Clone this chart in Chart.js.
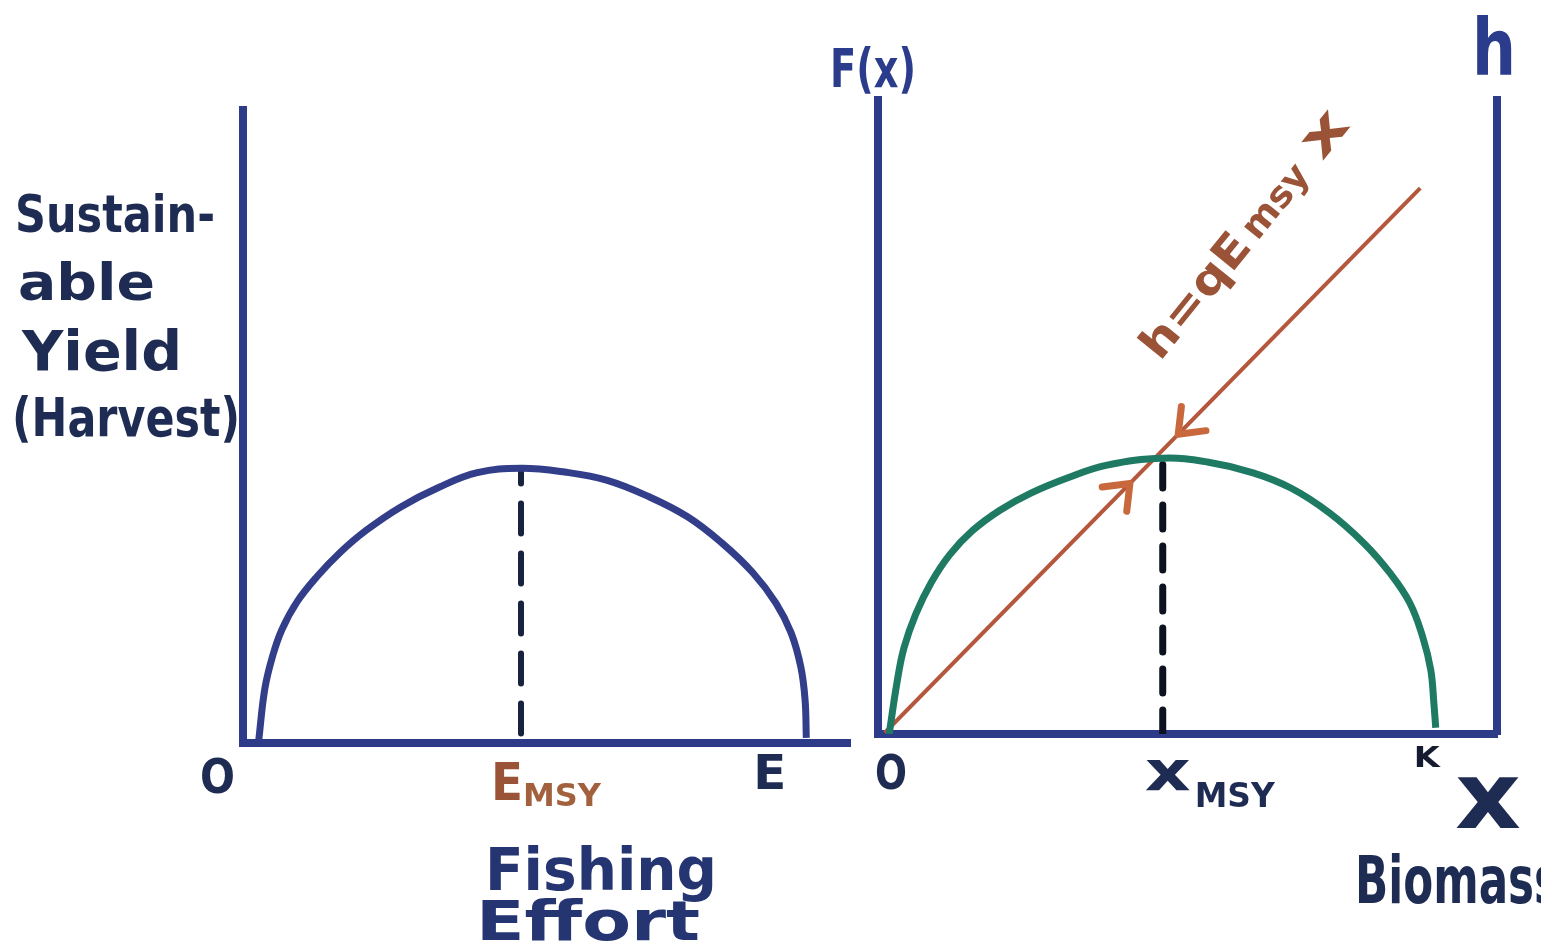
<!DOCTYPE html>
<html lang="en">
<head>
<meta charset="UTF-8">
<title>Sustainable Yield and Biomass</title>
<script src="https://cdn.jsdelivr.net/npm/chart.js"></script>
<style>
  body { margin: 0; background: #fff; width: 1541px; height: 948px; overflow: hidden; position: relative; }
  #yieldChart { position: absolute; left: 0; top: 0; }
  #biomassChart { position: absolute; left: 815px; top: 0; }
</style>
</head>
<body>
<canvas id="yieldChart" width="870" height="948"></canvas>
<canvas id="biomassChart" width="726" height="948"></canvas>
<script>
// Left panel: sustainable yield against fishing effort (axes run 0..100)
const effort = [2.6, 3.6, 4.9, 6.4, 8.9, 12.2, 16.0, 20.3, 26.0, 32.3, 38.6, 45.8, 53.0, 60.0, 66.9, 73.3, 78.9, 84.0, 87.8, 90.3, 91.9, 92.6, 92.8];
const sustainableYield = [0.5, 8.6, 13.8, 17.9, 22.3, 26.3, 30.1, 33.6, 37.3, 40.4, 42.7, 43.4, 42.8, 41.5, 38.9, 35.7, 31.6, 26.9, 22.1, 17.4, 12.0, 6.8, 0.8];
const effortMsy = 45.8;
const effortMax = 92.8;

// Right panel: growth F(x) against biomass x, with the harvest line h = qEmsy x
const biomass = [1.8, 3.1, 4.2, 6.1, 8.6, 11.6, 15.3, 19.7, 24.7, 30.9, 37.0, 46.0, 53.2, 60.6, 66.7, 72.9, 78.5, 82.7, 85.9, 88.0, 89.3, 89.8, 90.1];
const growth = [0, 8.3, 13.6, 18.9, 23.9, 28.3, 32.1, 35.3, 38.0, 40.5, 42.4, 43.5, 42.9, 41.2, 38.8, 34.9, 30.1, 25.4, 20.7, 15.3, 10.1, 4.9, 1.0];
const biomassMsy = 46.0;
const carryingCapacity = 90.1;
const harvestX = [1.1, 87.6];
const harvestH = [0.2, 86.1];
const arrowAt = [40.7, 48.5];   // x of each arrowhead on the harvest line
const arrowDir = [1, -1];       // 1 = pointing up the line, -1 = pointing down

const axisColor = '#2e3b88';
const inkNavy = '#1e2b52';
const inkBlue = '#2b3c8c';
const inkBrown = '#9a5336';

function fitText(ctx, str, x, y, size, width, color, angle) {
  ctx.save();
  ctx.font = 'bold ' + size + 'px "DejaVu Sans"';
  ctx.fillStyle = color;
  ctx.textBaseline = 'alphabetic';
  ctx.translate(x, y);
  if (angle) ctx.rotate(angle);
  const w = ctx.measureText(str).width;
  ctx.scale(width / w, 1);
  ctx.fillText(str, 0, 0);
  ctx.restore();
}

function plainScale() {
  return {
    type: 'linear', min: 0, max: 100,
    ticks: { display: false },
    grid: { display: false, drawTicks: false },
    border: { color: axisColor, width: 8 }
  };
}

const baseOptions = (padding) => ({
  responsive: false,
  animation: false,
  events: [],
  layout: { padding: padding },
  plugins: { legend: { display: false }, tooltip: { enabled: false } }
});

// labels for the effort panel
const yieldLabels = {
  id: 'yieldLabels',
  afterDraw(chart) {
    const ctx = chart.ctx;
    const x = chart.scales.x;
    fitText(ctx, 'Sustain-', 15, 232, 52, 200, inkNavy);
    fitText(ctx, 'able', 18, 300, 52, 137, inkNavy);
    fitText(ctx, 'Yield', 22, 370, 56, 160, inkNavy);
    fitText(ctx, '(Harvest)', 12, 436, 54, 228, inkNavy);

    fitText(ctx, 'O', x.getPixelForValue(0) - 43, 793, 48, 35, inkNavy);
    const em = x.getPixelForValue(effortMsy);
    fitText(ctx, 'E', em - 30, 800, 52, 32, inkBrown);
    fitText(ctx, 'MSY', em + 2, 806, 32, 78, '#a3603c');
    fitText(ctx, 'E', x.getPixelForValue(effortMax) - 53, 789, 48, 33, inkNavy);

    fitText(ctx, 'Fishing', 485, 890, 58, 232, '#253572');
    fitText(ctx, 'Effort', 476, 940, 56, 224, '#253572');
  }
};

// labels and arrowheads for the biomass panel
const biomassLabels = {
  id: 'biomassLabels',
  afterDraw(chart) {
    const ctx = chart.ctx;
    const x = chart.scales.x, y = chart.scales.y;
    const off = 815;

    fitText(ctx, 'F(x)', 830 - off, 87, 54, 86, inkBlue);
    fitText(ctx, 'h', 1472 - off, 75, 78, 44, inkBlue);

    fitText(ctx, 'O', x.getPixelForValue(0) - 3, 789, 48, 32, inkNavy);
    const xm = x.getPixelForValue(biomassMsy);
    fitText(ctx, 'x', xm - 18, 790, 56, 46, inkNavy);
    fitText(ctx, 'MSY', xm + 32, 807, 34, 80, inkNavy);
    fitText(ctx, 'K', x.getPixelForValue(carryingCapacity) - 22, 767, 28, 26, '#161c30');
    fitText(ctx, 'x', 1455 - off, 828, 92, 66, inkNavy);
    fitText(ctx, 'Biomass', 1355 - off, 903, 66, 205, inkNavy);

    // rotated label along the harvest line
    const ang = -51 * Math.PI / 180;
    const ox = 1160 - off, oy = 362;
    const along = (d) => [ox + d * Math.cos(ang), oy + d * Math.sin(ang)];
    let p = along(0);
    fitText(ctx, 'h=qE', p[0], p[1], 44, 148, inkBrown, ang);
    p = along(155);
    fitText(ctx, 'msy', p[0], p[1], 36, 85, inkBrown, ang);
    p = along(258);
    fitText(ctx, 'x', p[0], p[1], 52, 46, inkBrown, ang);

    // arrowheads on the harvest line
    const x0 = x.getPixelForValue(harvestX[0]), y0 = y.getPixelForValue(harvestH[0]);
    const x1 = x.getPixelForValue(harvestX[1]), y1 = y.getPixelForValue(harvestH[1]);
    const len = Math.hypot(x1 - x0, y1 - y0);
    const ux = (x1 - x0) / len, uy = (y1 - y0) / len;
    const slope = (harvestH[1] - harvestH[0]) / (harvestX[1] - harvestX[0]);
    ctx.save();
    ctx.strokeStyle = '#c9683d';
    ctx.lineWidth = 7;
    ctx.lineCap = 'round';
    ctx.lineJoin = 'round';
    arrowAt.forEach((ax, i) => {
      const px = x.getPixelForValue(ax);
      const py = y.getPixelForValue(harvestH[0] + (ax - harvestX[0]) * slope);
      const dx = ux * arrowDir[i], dy = uy * arrowDir[i];
      const arm = 28, a = 38 * Math.PI / 180;
      ctx.beginPath();
      [-a, a].forEach((t, k) => {
        const rx = dx * Math.cos(t) - dy * Math.sin(t);
        const ry = dx * Math.sin(t) + dy * Math.cos(t);
        if (k === 0) ctx.moveTo(px - rx * arm, py - ry * arm);
        else { ctx.lineTo(px, py); ctx.lineTo(px - rx * arm, py - ry * arm); }
      });
      ctx.stroke();
    });
    ctx.restore();
  }
};

const yieldPeak = Math.max(...sustainableYield);
new Chart(document.getElementById('yieldChart'), {
  type: 'line',
  data: {
    datasets: [
      {
        data: effort.map((e, i) => ({ x: e, y: sustainableYield[i] })),
        borderColor: '#333e8a', borderWidth: 7, pointRadius: 0,
        tension: 0.4, fill: false
      },
      {
        data: [{ x: effortMsy, y: 1.5 }, { x: effortMsy, y: yieldPeak }],
        borderColor: '#17223f', borderWidth: 6, borderDash: [30, 20], borderCapStyle: 'round', pointRadius: 0
      }
    ]
  },
  options: Object.assign(baseOptions({ left: 243, right: 20, top: 110, bottom: 205 }), {
    scales: { x: plainScale(), y: plainScale() }
  }),
  plugins: [yieldLabels]
});

const growthPeak = Math.max(...growth);
new Chart(document.getElementById('biomassChart'), {
  type: 'line',
  data: {
    datasets: [
      {
        data: biomass.map((b, i) => ({ x: b, y: growth[i] })),
        borderColor: '#1f7a64', borderWidth: 7, pointRadius: 0,
        tension: 0.4, fill: false
      },
      {
        data: harvestX.map((h, i) => ({ x: h, y: harvestH[i] })),
        borderColor: '#b5573d', borderWidth: 4, pointRadius: 0
      },
      {
        data: [{ x: biomassMsy, y: 0 }, { x: biomassMsy, y: growthPeak - 1 }],
        borderColor: '#0d1220', borderWidth: 7, borderDash: [24, 17], borderCapStyle: 'round', pointRadius: 0
      }
    ]
  },
  options: Object.assign(baseOptions({ left: 63, right: 44, top: 100, bottom: 214 }), {
    scales: {
      x: plainScale(),
      y: plainScale(),
      y2: Object.assign(plainScale(), { position: 'right' })
    }
  }),
  plugins: [biomassLabels]
});
</script>
</body>
</html>
